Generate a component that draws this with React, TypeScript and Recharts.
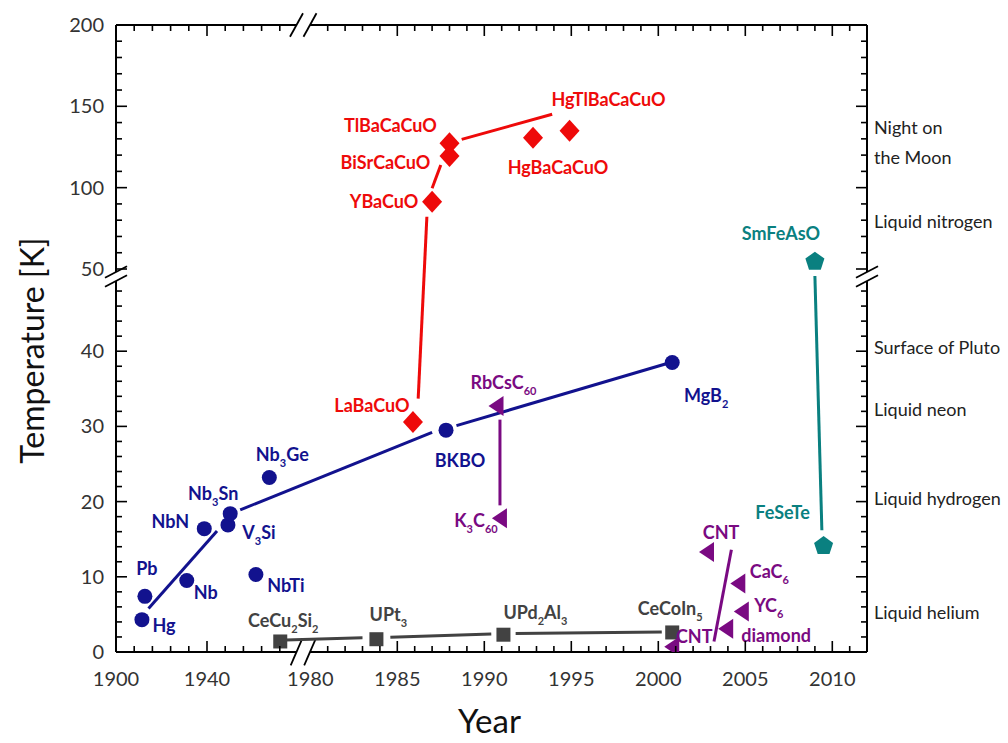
import React from 'react';
import { ScatterChart, Scatter, XAxis, YAxis, ReferenceLine } from 'recharts';

const FONT = 'Lato, "Open Sans", "DejaVu Sans", sans-serif';

// ---------------- data (years, Tc in K) ----------------
const BLUE_NAMES = ['Hg', 'Pb', 'Nb', 'NbN', 'V_3Si', 'Nb_3Sn', 'NbTi', 'Nb_3Ge', 'BKBO', 'MgB_2'];
const BLUE_YEARS = [1911.4, 1912.7, 1931.1, 1938.8, 1949.2, 1950.2, 1961.5, 1967.4, 1987.8, 2000.8];
const BLUE_TC = [4.3, 7.4, 9.5, 16.4, 16.9, 18.4, 10.3, 23.2, 29.5, 38.5];

const RED_NAMES = ['LaBaCuO', 'YBaCuO', 'BiSrCaCuO', 'TlBaCaCuO', 'HgBaCaCuO', 'HgTlBaCaCuO'];
const RED_YEARS = [1985.9, 1987.0, 1988.0, 1988.0, 1992.8, 1994.9];
const RED_TC = [30.6, 91.4, 119.5, 127.3, 130.7, 135.0];

const PURPLE_NAMES = ['RbCsC_60', 'K_3C_60', 'CNT', 'CaC_6', 'YC_6', 'diamond', 'CNT'];
const PURPLE_YEARS = [1990.7, 1990.9, 2002.8, 2004.6, 2004.8, 2003.9, 2000.8];
const PURPLE_TC = [32.7, 17.8, 13.3, 9.1, 5.4, 3.1, 0.7];

const GRAY_NAMES = ['CeCu_2Si_2', 'UPt_3', 'UPd_2Al_3', 'CeCoIn_5'];
const GRAY_YEARS = [1972.2, 1983.8, 1991.1, 2000.8];
const GRAY_TC = [1.4, 1.7, 2.3, 2.6];

const TEAL_NAMES = ['SmFeAsO', 'FeSeTe'];
const TEAL_YEARS = [2009.0, 2009.5];
const TEAL_TC = [54.5, 14.1];

// trend lines: [year, Tc] end points
const BLUE_TRENDS = [
  [[1914.3, 5.8], [1944.4, 16.1]],
  [[1954.6, 18.9], [1987.0, 29.2]],
  [[1988.4, 30.1], [2000.7, 38.5]],
];
const RED_TRENDS = [
  [[1986.2, 33.7], [1986.7, 82.1]],
  [[1987.0, 99.6], [1987.5, 113.9]],
  [[1988.7, 129.7], [1993.9, 145.1]],
];
const PURPLE_TRENDS = [
  [[1990.9, 30.9], [1990.9, 19.5]],
  [[2004.2, 13.6], [2003.2, 1.4]],
];
const GRAY_TRENDS = [
  [[1974.5, 1.6], [1983.0, 1.9]],
  [[1984.6, 1.95], [1990.4, 2.4]],
  [[1991.8, 2.45], [2000.2, 2.65]],
];
const TEAL_TRENDS = [[[2009.0, 50], [2009.4, 16.2]]];

// axis ticks
const X_TICK_YEARS_LEFT = [1900, 1908, 1916, 1924, 1932, 1940, 1948, 1956, 1964, 1972];
const X_TICK_YEARS_RIGHT = [
  1981, 1982, 1983, 1984, 1985, 1986, 1987, 1988, 1989, 1990, 1991, 1992, 1993, 1994, 1995, 1996,
  1997, 1998, 1999, 2000, 2001, 2002, 2003, 2004, 2005, 2006, 2007, 2008, 2009, 2010, 2011,
];
const X_LABEL_YEARS = [1900, 1940, 1980, 1985, 1990, 1995, 2000, 2005, 2010];
const Y_TICKS_LOW = [0, 2, 4, 6, 8, 10, 12, 14, 16, 18, 20, 22, 24, 26, 28, 30, 32, 34, 36, 38, 40, 42, 44, 46, 48];
const Y_TICKS_HIGH = [50, 60, 70, 80, 90, 100, 110, 120, 130, 140, 150, 160, 170, 180, 190, 200];
const Y_LABELS = [0, 10, 20, 30, 40, 50, 100, 150, 200];

// reference temperatures on the right
const TEMP_REF_NAMES = ['Night on|the Moon', 'Liquid nitrogen', 'Surface of Pluto', 'Liquid neon', 'Liquid hydrogen', 'Liquid helium'];
const TEMP_REF_K = [127.3, 79, 40.4, 32.2, 20.4, 5.2];

// ---------------- broken-axis transforms ----------------
const xv = (year: number) => (year < 1980 ? (year - 1900) * 2.275 : 194.3 + (year - 1980) * 17.4);
const yv = (t: number) => (t <= 50 ? t * 7.52 : 383 + (t - 50) * 1.627);
const yvHigh = (t: number) => 383 + (t - 50) * 1.627;
const X_MAX = 751;
const Y_MAX = 627;

// label offsets (px) relative to marker centre
const BLUE_OFF = [[22, 6], [2, -27], [19, 12], [-34, -7], [31, 8], [-17, -20], [30, 11], [13, -23], [14, 31], [34, 34]];
const RED_OFF = [[-41, -16], [-48, 0], [-64, 7], [-59, -17], [25, 30], [39, -31]];
const PURPLE_OFF = [[7, -23], [-24, 3], [14, -19], [31, -12], [27, -5], [50, 7], [22, -10]];
const GRAY_OFF = [[3, -20], [12, -24], [32, -22], [-2, -23]];
const TEAL_OFF = [[-34, -28], [-41, -33]];

const BLUE = '#12128e';
const RED = '#ee0a0a';
const PURPLE = '#7a0a82';
const GRAY = '#424242';
const TEAL = '#0a8080';

type Pt = { x: number; y: number; i: number; name: string };
const buildPoints = (names: string[], years: number[], tcs: number[]): Pt[] =>
  names.map((name, i) => ({ x: xv(years[i]), y: yv(tcs[i]), i, name }));
const buildTrend = (pairs: number[][]) => pairs.map(([yr, t]) => ({ x: xv(yr), y: yv(t) }));

// ticks
type TickInfo = { v: number; major: boolean; line: boolean; label?: string };
const X_INFO: TickInfo[] = [
  ...X_TICK_YEARS_LEFT.map((y) => ({ v: xv(y), major: X_LABEL_YEARS.includes(y), line: true, label: X_LABEL_YEARS.includes(y) ? String(y) : undefined })),
  { v: xv(1980), major: true, line: false, label: '1980' },
  ...X_TICK_YEARS_RIGHT.map((y) => ({ v: xv(y), major: X_LABEL_YEARS.includes(y), line: true, label: X_LABEL_YEARS.includes(y) ? String(y) : undefined })),
];
const Y_INFO: TickInfo[] = [
  ...Y_TICKS_LOW.map((t) => ({ v: yv(t), major: t % 10 === 0, line: true, label: Y_LABELS.includes(t) ? String(t) : undefined })),
  ...Y_TICKS_HIGH.map((t) => ({ v: yvHigh(t), major: t % 50 === 0, line: true, label: Y_LABELS.includes(t) ? String(t) : undefined })),
];
const REF_INFO = TEMP_REF_NAMES.map((n, i) => ({ v: yv(TEMP_REF_K[i]), text: n }));
const findInfo = (arr: TickInfo[], v: number) => arr.find((t) => Math.abs(t.v - v) < 1e-6);

const MAJOR = 11;
const MINOR = 6;

const BottomTick = (p: any) => {
  const info = findInfo(X_INFO, p.payload.value);
  if (!info) return <g />;
  const len = info.major ? MAJOR : MINOR;
  return (
    <g>
      {info.line && <line x1={p.x} x2={p.x} y1={p.y} y2={p.y - len} stroke="#000" strokeWidth={1.6} />}
      {info.label && (
        <text x={p.x} y={p.y + 34} textAnchor="middle" fontFamily={FONT} fontSize={20} fill="#333">
          {info.label}
        </text>
      )}
    </g>
  );
};
const TopTick = (p: any) => {
  const info = findInfo(X_INFO, p.payload.value);
  if (!info || !info.line) return <g />;
  const len = info.major ? MAJOR : MINOR;
  return <line x1={p.x} x2={p.x} y1={p.y} y2={p.y + len} stroke="#000" strokeWidth={1.6} />;
};
const LeftTick = (p: any) => {
  const info = findInfo(Y_INFO, p.payload.value);
  if (!info) return <g />;
  const len = info.major ? MAJOR : MINOR;
  return (
    <g>
      <line x1={p.x} x2={p.x + len} y1={p.y} y2={p.y} stroke="#000" strokeWidth={1.6} />
      {info.label && (
        <text x={p.x - 12} y={p.y + 7} textAnchor="end" fontFamily={FONT} fontSize={20} fill="#333">
          {info.label}
        </text>
      )}
    </g>
  );
};
const RightTick = (p: any) => {
  const ref = REF_INFO.find((r) => Math.abs(r.v - p.payload.value) < 1e-6);
  if (ref) {
    const lines = ref.text.split('|');
    return (
      <text x={p.x + 7} y={p.y + 6 - (lines.length - 1) * 15} fontFamily={FONT} fontSize={18} fill="#222">
        {lines.map((l, k) => (
          <tspan key={k} x={p.x + 7} dy={k === 0 ? 0 : 30}>
            {l}
          </tspan>
        ))}
      </text>
    );
  }
  const info = findInfo(Y_INFO, p.payload.value);
  if (!info) return <g />;
  const len = info.major ? MAJOR : MINOR;
  return <line x1={p.x} x2={p.x - len} y1={p.y} y2={p.y} stroke="#000" strokeWidth={1.6} />;
};

const richLabel = (text: string, x: number, y: number, color: string) => {
  const parts = text.split(/_(\d+)/);
  return (
    <text x={x} y={y} textAnchor="middle" fill={color} fontFamily={FONT} fontSize={18} fontWeight={700}>
      {parts.map((s, k) =>
        k % 2 === 1 ? (
          <tspan key={k} fontSize={11} dy={6}>
            {s}
          </tspan>
        ) : (
          <tspan key={k} dy={k > 0 ? -6 : 0}>
            {s}
          </tspan>
        )
      )}
    </text>
  );
};

const marker = (kind: string, cx: number, cy: number, color: string) => {
  switch (kind) {
    case 'circle':
      return <circle cx={cx} cy={cy} r={7.5} fill={color} />;
    case 'diamond':
      return <polygon points={`${cx},${cy - 11} ${cx + 10},${cy} ${cx},${cy + 11} ${cx - 10},${cy}`} fill={color} />;
    case 'triangle':
      return <polygon points={`${cx - 8},${cy} ${cx + 7},${cy - 10} ${cx + 7},${cy + 10}`} fill={color} />;
    case 'square':
      return <rect x={cx - 7} y={cy - 7} width={14} height={14} fill={color} />;
    default: {
      const pts = [0, 1, 2, 3, 4]
        .map((k) => {
          const a = ((-90 + k * 72) * Math.PI) / 180;
          return `${cx + 10 * Math.cos(a)},${cy + 10 * Math.sin(a)}`;
        })
        .join(' ');
      return <polygon points={pts} fill={color} />;
    }
  }
};

const makeShape = (kind: string, color: string, offs: number[][]) => (props: any) => {
  const { cx, cy, payload } = props;
  const [dx, dy] = offs[payload.i];
  return (
    <g>
      {marker(kind, cx, cy, color)}
      {richLabel(payload.name, cx + dx, cy + dy + 6, color)}
    </g>
  );
};

const Empty = () => <g />;

const SERIES = [
  { pts: buildPoints(GRAY_NAMES, GRAY_YEARS, GRAY_TC), kind: 'square', color: GRAY, offs: GRAY_OFF, trends: GRAY_TRENDS },
  { pts: buildPoints(BLUE_NAMES, BLUE_YEARS, BLUE_TC), kind: 'circle', color: BLUE, offs: BLUE_OFF, trends: BLUE_TRENDS },
  { pts: buildPoints(RED_NAMES, RED_YEARS, RED_TC), kind: 'diamond', color: RED, offs: RED_OFF, trends: RED_TRENDS },
  { pts: buildPoints(PURPLE_NAMES, PURPLE_YEARS, PURPLE_TC), kind: 'triangle', color: PURPLE, offs: PURPLE_OFF, trends: PURPLE_TRENDS },
  { pts: buildPoints(TEAL_NAMES, TEAL_YEARS, TEAL_TC), kind: 'pentagon', color: TEAL, offs: TEAL_OFF, trends: TEAL_TRENDS },
];

// frame with gaps at the breaks (virtual units)
const XB1 = 180.5;
const XB2 = 194;
const YB1 = 371;
const YB2 = 380;
const FRAME = [
  [[0, 0], [XB1, 0]], [[XB2, 0], [X_MAX, 0]],
  [[0, Y_MAX], [XB1, Y_MAX]], [[XB2, Y_MAX], [X_MAX, Y_MAX]],
  [[0, 0], [0, YB1]], [[0, YB2], [0, Y_MAX]],
  [[X_MAX, 0], [X_MAX, YB1]], [[X_MAX, YB2], [X_MAX, Y_MAX]],
];
const SLASHES = [
  ...[XB1, XB2].map((c) => [[c - 5.8, -13.3], [c + 5.8, 13.3]]),
  ...[XB1, XB2].map((c) => [[c - 6.5, Y_MAX - 11.7], [c + 6.5, Y_MAX + 11.7]]),
  ...[YB1, YB2].map((c) => [[-11, c - 5.7], [11, c + 5.7]]),
  ...[YB1, YB2].map((c) => [[X_MAX - 11, c - 5.7], [X_MAX + 11, c + 5.7]]),
];

export default function App() {
  const xTicks = X_INFO.map((t) => t.v);
  const yTicks = Y_INFO.map((t) => t.v);
  const rTicks = [...yTicks, ...REF_INFO.map((r) => r.v)];
  return (
    <div style={{ position: 'absolute', left: 0, top: 0, background: '#fff' }}>
      <ScatterChart width={1008} height={743} margin={{ top: 20, right: 100, bottom: 70, left: 100 }}>
        <XAxis
          xAxisId={0}
          type="number"
          dataKey="x"
          domain={[0, X_MAX]}
          ticks={xTicks}
          interval={0}
          tickSize={0}
          tickMargin={0}
          axisLine={false}
          tickLine={false}
          tick={(p: any) => <BottomTick {...p} />}
          height={21}
          allowDataOverflow
          label={{
            content: (p: any) => {
              const vb = p.viewBox || { x: 116, y: 652, width: 751 };
              return (
                <text x={vb.x + vb.width / 2 - 2} y={vb.y + 81} textAnchor="middle" fontFamily={FONT} fontSize={33} fill="#111">
                  Year
                </text>
              );
            },
          }}
        />
        <XAxis
          xAxisId="top"
          orientation="top"
          type="number"
          dataKey="x"
          domain={[0, X_MAX]}
          ticks={xTicks}
          interval={0}
          tickSize={0}
          tickMargin={0}
          axisLine={false}
          tickLine={false}
          tick={(p: any) => <TopTick {...p} />}
          height={5}
          allowDataOverflow
        />
        <YAxis
          yAxisId={0}
          type="number"
          dataKey="y"
          domain={[0, Y_MAX]}
          ticks={yTicks}
          interval={0}
          tickSize={0}
          tickMargin={0}
          axisLine={false}
          tickLine={false}
          tick={(p: any) => <LeftTick {...p} />}
          width={16}
          allowDataOverflow
          label={{
            content: (p: any) => {
              const vb = p.viewBox || { x: 100, y: 25, height: 627 };
              const x = vb.x - 56;
              const y = vb.y + vb.height / 2 + 12;
              return (
                <text x={x} y={y} transform={`rotate(-90, ${x}, ${y})`} textAnchor="middle" fontFamily={FONT} fontSize={32} fill="#111">
                  Temperature [K]
                </text>
              );
            },
          }}
        />
        <YAxis
          yAxisId="right"
          orientation="right"
          type="number"
          dataKey="y"
          domain={[0, Y_MAX]}
          ticks={rTicks}
          interval={0}
          tickSize={0}
          tickMargin={0}
          axisLine={false}
          tickLine={false}
          tick={(p: any) => <RightTick {...p} />}
          width={41}
          allowDataOverflow
        />
        {FRAME.map((s, k) => (
          <ReferenceLine
            key={`f${k}`}
            segment={[{ x: s[0][0], y: s[0][1] }, { x: s[1][0], y: s[1][1] }]}
            stroke="#000"
            strokeWidth={2}
            ifOverflow="visible"
          />
        ))}
        {SLASHES.map((s, k) => (
          <ReferenceLine
            key={`s${k}`}
            segment={[{ x: s[0][0], y: s[0][1] }, { x: s[1][0], y: s[1][1] }]}
            stroke="#000"
            strokeWidth={1.8}
            ifOverflow="visible"
          />
        ))}
        {SERIES.flatMap((s, si) =>
          s.trends.map((tr, k) => (
            <Scatter
              key={`t${si}-${k}`}
              data={buildTrend(tr)}
              line={{ stroke: s.color, strokeWidth: 3 }}
              shape={Empty}
              isAnimationActive={false}
            />
          ))
        )}
        {SERIES.map((s, si) => (
          <Scatter
            key={`p${si}`}
            data={s.pts}
            shape={makeShape(s.kind, s.color, s.offs)}
            isAnimationActive={false}
          />
        ))}
      </ScatterChart>
    </div>
  );
}
